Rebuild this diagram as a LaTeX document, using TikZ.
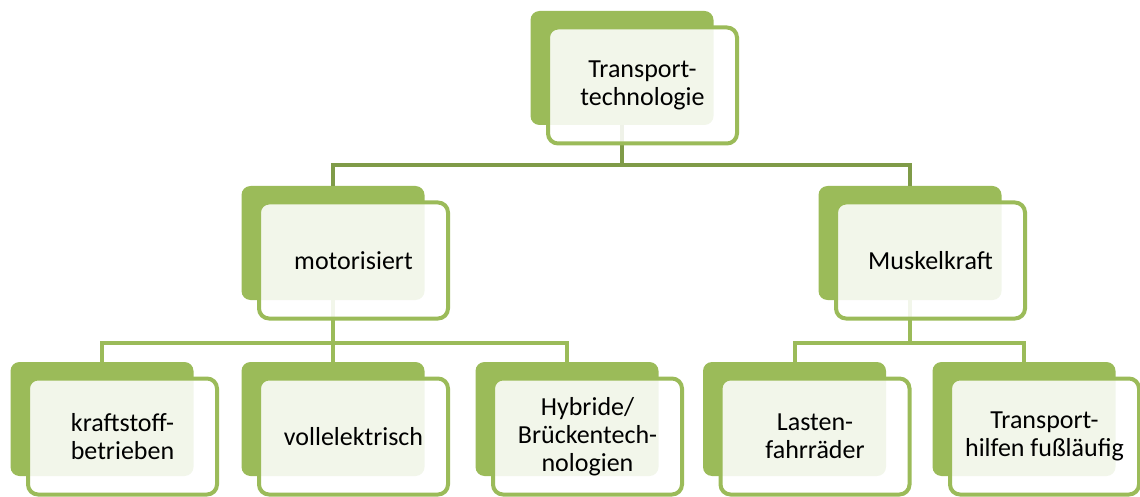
\documentclass[tikz,border=0pt]{standalone}
\usepackage{fontspec}
\setmainfont{Carlito}
\definecolor{sgreen}{HTML}{9BBB59}
\definecolor{cdark}{HTML}{7F9B48}
\begin{document}
\begin{tikzpicture}[x=1pt,y=-1pt,
  back/.style={rectangle, fill=sgreen, draw=none, rounded corners=9pt,
    minimum width=183pt, minimum height=114pt, inner sep=0pt, outer sep=0pt},
  front/.style={rectangle, draw=sgreen, line width=4pt, fill=white, fill opacity=0.88,
    text opacity=1, rounded corners=10pt, minimum width=189pt, minimum height=116pt,
    inner sep=0pt, outer sep=0pt, align=center, text=black,
    font=\fontsize{26}{28}\selectfont, xshift=20.5pt, yshift=-17.5pt},
  connA/.style={line width=4pt, draw=cdark},
  connB/.style={line width=4pt, draw=sgreen}]
\useasboundingbox (0,0) rectangle (1140,497);
% back shapes
\node[back] (T) at (622,68) {};
\node[back] (M) at (333,243) {};
\node[back] (K) at (910,243) {};
\node[back] (c1) at (102,419) {};
\node[back] (c2) at (333,419) {};
\node[back] (c3) at (567,419) {};
\node[back] (c4) at (794.5,419) {};
\node[back] (c5) at (1024,419) {};
% bar levels
\coordinate (y1) at (0,165);
\coordinate (y2) at (0,343);
% connectors
\draw[connA] (T.south) -- (T.south |- y1);
\draw[connA] (M.north) -- (M.north |- y1) -- (K.north |- y1) -- (K.north);
\draw[connB] (M.south) -- (M.south |- y2);
\draw[connB] (c1.north) -- (c1.north |- y2) -- (c3.north |- y2) -- (c3.north);
\draw[connB] (c2.north) -- (c2.north |- y2);
\draw[connB] (K.south) -- (K.south |- y2);
\draw[connB] (c4.north) -- (c4.north |- y2) -- (c5.north |- y2) -- (c5.north);
% front shapes with text
\node[front] (fT) at (T) {Transport-\\technologie};
\node[front] (fM) at (M) {motorisiert};
\node[front] (fK) at (K) {Muskelkraft};
\node[front] (f1) at (c1) {kraftstoff-\\betrieben};
\node[front] (f2) at (c2) {vollelektrisch};
\node[front] (f3) at (c3) {Hybride/\\Brückentech-\\nologien};
\node[front] (f4) at (c4) {Lasten-\\fahrräder};
\node[front] (f5) at (c5) {Transport-\\hilfen fußläufig};
\end{tikzpicture}
\end{document}
